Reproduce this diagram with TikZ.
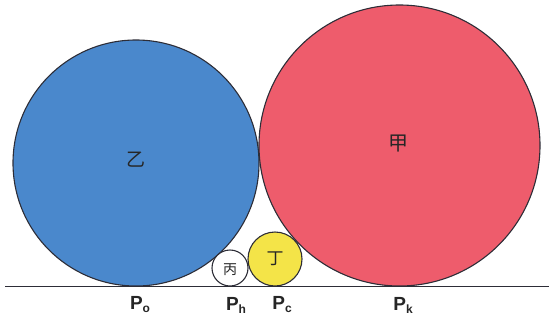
\documentclass[tikz,border=0pt]{standalone}
\usepackage{fontspec}
\setmainfont{Liberation Sans}
\newfontfamily\cjk{Noto Sans CJK SC}
\definecolor{blueC}{RGB}{74,136,204}
\definecolor{redC}{RGB}{238,92,108}
\definecolor{yelC}{RGB}{244,228,72}
\definecolor{edgeC}{RGB}{45,45,55}
\tikzset{
  disc/.style={circle, draw=edgeC, line width=1.1pt, inner sep=0pt},
  cjklab/.style={font=\cjk\fontsize{#1}{#1}\selectfont, text=black!85},
  plab/.style={font=\bfseries\fontsize{19}{19}\selectfont, text=black!85, inner sep=0pt},
}
\newcommand{\plabel}[1]{P\raisebox{-3pt}{\fontsize{12}{12}\selectfont #1}}
\begin{document}
\begin{tikzpicture}[x=1pt,y=-1pt]
\useasboundingbox (0,0) rectangle (549,322);
% circles
\node[disc, fill=blueC, minimum size=246pt] (yi) at (136,163) {};
\node[disc, fill=redC, minimum size=281pt] (jia) at (399.5,145.5) {};
\node[disc, fill=white, minimum size=36pt] (bing) at (230,268) {};
\node[disc, fill=yelC, minimum size=54pt] (ding) at (275,259) {};
% ground line
\coordinate (gl) at (5,286.5);
\coordinate (gr) at (549,286.5);
\draw[edgeC, line width=1.6pt] (gl) -- (gr);
% cjk labels
\node[cjklab=19] (tyi) at (136,160) {乙};
\node[cjklab=20] (tjia) at (398,144) {甲};
\node[cjklab=14] (tbing) at (230,270) {丙};
\node[cjklab=17] (tding) at (275,259) {丁};
% point labels
\node[plab] (po) at (140,305) {\plabel{o}};
\node[plab] (ph) at (236,305) {\plabel{h}};
\node[plab] (pc) at (282,305) {\plabel{c}};
\node[plab] (pk) at (403,305) {\plabel{k}};
\end{tikzpicture}
\end{document}
